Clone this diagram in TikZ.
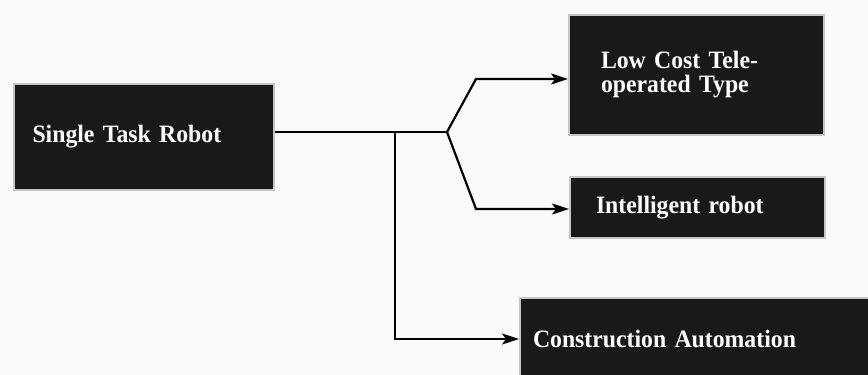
\documentclass[tikz,border=0pt]{standalone}
\usepackage{fontspec}
\setmainfont{Liberation Serif}[FakeStretch=0.95]
\usetikzlibrary{arrows.meta}
\tikzset{
	box/.style={draw=gray!45, line width=2pt, fill=black!90, text=white, align=left, inner ysep=0pt, font=\bfseries\fontsize{25}{24}\selectfont},
	arr/.style={line width=2.2pt, -{Stealth[length=17pt,width=11pt,inset=4pt]}}
}
\begin{document}
\begin{tikzpicture}[x=1pt,y=-1pt]
	\useasboundingbox (0,0) rectangle (868,375);
	\fill [gray!4] (0,0) rectangle (868,375);
	
	\node [box, text width=222pt, inner xsep=19pt, minimum height=106pt] (single) at (143.5,137) {Single Task Robot};
	\node [box, text width=191pt, inner xsep=32pt, minimum height=120pt] (lowcost) at (696.5,75) {Low Cost Tele-\\operated Type};
	\node [box, text width=203pt, inner xsep=26pt, minimum height=61pt] (intel) at (697.5,207.5) {Intelligent robot};
	\node [box, text width=329pt, inner xsep=13pt, minimum height=82pt] (constr) at (697.5,339) {Construction Automation};
	
	\coordinate (tee) at (395,132);
	\coordinate (fork) at (447,132);
	\coordinate (upbend) at (476,79);
	\coordinate (lowbend) at (476,209);
	
	\draw [line width=2.2pt] (single.east |- fork) -- (fork);
	\draw [arr] (fork) -- (upbend) -- (upbend -| lowcost.west);
	\draw [arr] (fork) -- (lowbend) -- (lowbend -| intel.west);
	\draw [arr, line width=1.8pt] (tee) |- (constr.west);
\end{tikzpicture}
\end{document}
